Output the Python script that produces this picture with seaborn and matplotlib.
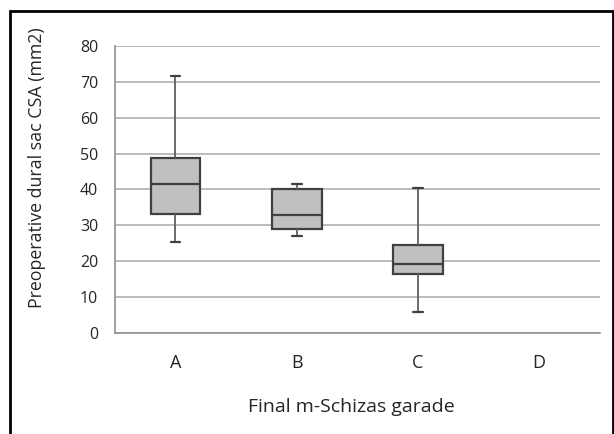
import numpy as np
import pandas as pd
import matplotlib
matplotlib.use("Agg")
import matplotlib.pyplot as plt
import seaborn as sns
from matplotlib.patches import Rectangle

# five-number summaries (min, q1, median, q3, max)
grades = ["A", "B", "C", "D"]
grade_a = [25.3, 33.2, 41.6, 48.8, 71.6]
grade_b = [27.1, 29.1, 33.0, 40.2, 41.6]
grade_c = [5.8, 16.4, 19.3, 24.5, 40.5]

df = pd.DataFrame({
    "grade": ["A"] * 5 + ["B"] * 5 + ["C"] * 5,
    "csa": grade_a + grade_b + grade_c,
})

sns.set_style("white")
plt.rcParams["font.family"] = ["Open Sans", "DejaVu Sans"]

fig = plt.figure(figsize=(6.14, 4.34), dpi=100)
ax = fig.add_axes([0.187, 0.233, 0.790, 0.661])

sns.boxplot(data=df, x="grade", y="csa", order=grades, ax=ax,
            whis=(0, 100), width=0.41, color="#c0c0c0", saturation=1,
            linewidth=1.6, linecolor="#404040",
            whiskerprops=dict(color="#606060", linewidth=1.3),
            capprops=dict(color="#404040", linewidth=1.6),
            capwidths=0.08)

ax.set_ylim(0, 80)
ax.set_yticks(range(0, 81, 10))
ax.set_xlim(-0.5, 3.5)
ax.set_xticks(range(4))
ax.set_xticks([-0.5, 0.5, 1.5, 2.5, 3.5], minor=True)
ax.tick_params(axis="x", which="major", length=0, pad=15, labelsize=13, colors="#262626")
ax.tick_params(axis="x", which="minor", length=5, color="#909090", direction="out")
ax.tick_params(axis="y", length=5, color="#909090", labelsize=11.5, labelcolor="#262626", pad=7)
ax.yaxis.grid(True, color="#a8a8a8", linewidth=1.1)
ax.set_axisbelow(True)
for s in ["top", "right"]:
    ax.spines[s].set_visible(False)
for s in ["left", "bottom"]:
    ax.spines[s].set_color("#909090")
    ax.spines[s].set_linewidth(1.2)

ax.set_xlabel("Final m-Schizas garade", fontsize=14, color="#262626")
ax.set_ylabel("Preoperative dural sac CSA (mm2)", fontsize=12.8, color="#262626")
ax.xaxis.set_label_coords(0.487, -0.228)
ax.yaxis.set_label_coords(-0.142, 0.575)

# frame round the figure
fig.patches.append(Rectangle((10 / 614, -0.05), 603 / 614, 1 - 11 / 434 + 0.05,
                             transform=fig.transFigure, fill=False,
                             edgecolor="black", linewidth=2))

fig.savefig("out.png", dpi=100)
